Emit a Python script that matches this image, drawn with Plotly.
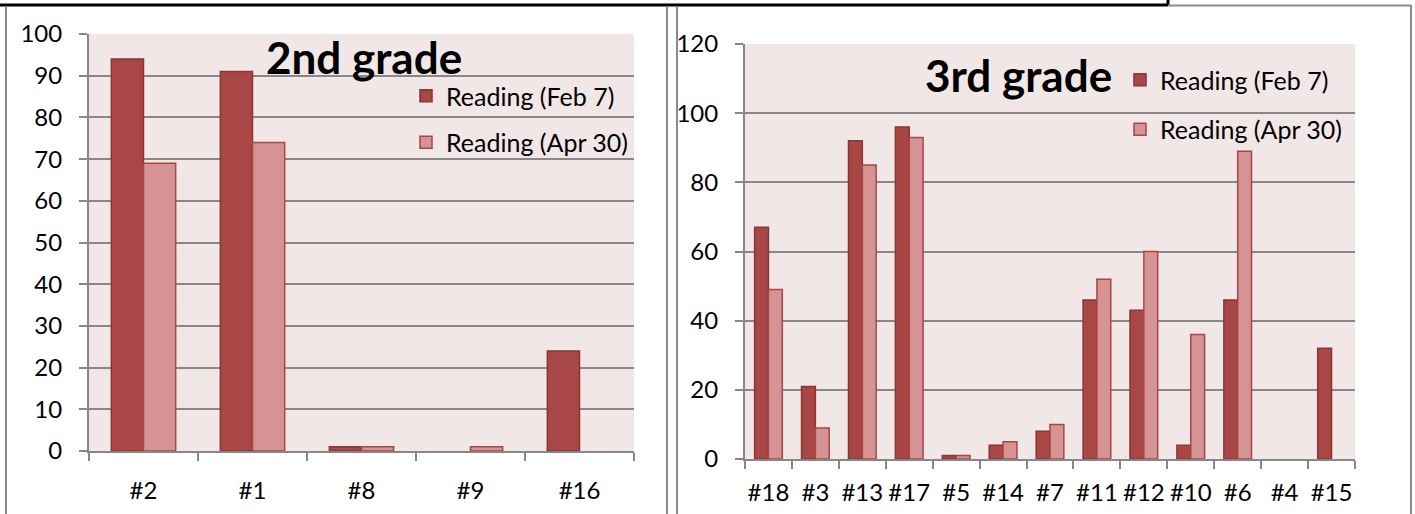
import plotly.graph_objects as go

W, H = 1415, 514

# ---- data ----
cats2 = ["#2", "#1", "#8", "#9", "#16"]
feb2 = [94, 91, 1, None, 24]
apr2 = [69, 74, 1, 1, None]

cats3 = ["#18", "#3", "#13", "#17", "#5", "#14", "#7", "#11", "#12", "#10", "#6", "#4", "#15"]
feb3 = [67, 21, 92, 96, 1, 4, 8, 46, 43, 4, 46, None, 32]
apr3 = [49, 9, 85, 93, 1, 5, 10, 52, 60, 36, 89, None, None]

yticks2 = [0, 10, 20, 30, 40, 50, 60, 70, 80, 90, 100]
yticks3 = [0, 20, 40, 60, 80, 100, 120]

name_feb = "Reading (Feb 7)"
name_apr = "Reading (Apr 30)"

# ---- styles ----
FEB_FILL, FEB_LINE = "#A94646", "#8B3535"
APR_FILL, APR_LINE = "#D59393", "#A94646"
GRID = "#878787"
BG = "#F2E7E7"
FONT = "Lato"

def px(x):
    return x / W

def py(y):
    return 1 - y / H

fig = go.Figure()

fig.add_trace(go.Bar(x=cats2, y=feb2, name=name_feb, xaxis="x", yaxis="y",
                     marker=dict(color=FEB_FILL, line=dict(color=FEB_LINE, width=1.5)),
                     legend="legend", legendgroup="a"))
fig.add_trace(go.Bar(x=cats2, y=apr2, name=name_apr, xaxis="x", yaxis="y",
                     marker=dict(color=APR_FILL, line=dict(color=APR_LINE, width=1.5)),
                     legend="legend", legendgroup="b"))
fig.add_trace(go.Bar(x=cats3, y=feb3, name=name_feb, xaxis="x2", yaxis="y2",
                     marker=dict(color=FEB_FILL, line=dict(color=FEB_LINE, width=1.5)),
                     legend="legend2", legendgroup="c"))
fig.add_trace(go.Bar(x=cats3, y=apr3, name=name_apr, xaxis="x2", yaxis="y2",
                     marker=dict(color=APR_FILL, line=dict(color=APR_LINE, width=1.5)),
                     legend="legend2", legendgroup="d"))

axis_common = dict(showline=True, linecolor=GRID, linewidth=2, ticks="outside",
                   tickcolor=GRID, tickwidth=2, ticklen=8, tickangle=0, automargin=False,
                   tickfont=dict(family=FONT, size=24, color="#000000"))

fig.update_layout(
    width=W, height=H, margin=dict(l=0, r=0, t=0, b=0, pad=0),
    paper_bgcolor="white", plot_bgcolor=BG,
    barmode="group", bargap=0.41, bargroupgap=0,
    font=dict(family=FONT, color="#000000"),
    xaxis=dict(domain=[px(89), px(634)], anchor="y", type="category",
               tickson="boundaries", showgrid=False, ticklabelstandoff=17, **axis_common),
    yaxis=dict(domain=[py(451), py(34)], anchor="x", range=[0, 100], tickvals=yticks2,
               showgrid=True, gridcolor=GRID, gridwidth=2, zeroline=False,
               ticklabelstandoff=12, **axis_common),
    xaxis2=dict(domain=[px(745), px(1355)], anchor="y2", type="category",
                tickson="boundaries", showgrid=False, ticklabelstandoff=11, **axis_common),
    yaxis2=dict(domain=[py(459), py(44)], anchor="x2", range=[0, 120], tickvals=yticks3,
                showgrid=True, gridcolor=GRID, gridwidth=2, zeroline=False,
                ticklabelstandoff=12, **axis_common),
    legend=dict(x=px(406), y=py(73), xanchor="left", yanchor="top",
                bgcolor="rgba(0,0,0,0)", font=dict(family=FONT, size=25),
                tracegroupgap=11, itemwidth=30),
    legend2=dict(x=px(1120), y=py(57), xanchor="left", yanchor="top",
                 bgcolor="rgba(0,0,0,0)", font=dict(family=FONT, size=25),
                 tracegroupgap=14, itemwidth=30),
    showlegend=True,
    annotations=[
        dict(text="<b>2nd grade</b>", x=px(364), y=py(57), xref="paper", yref="paper",
             xanchor="center", yanchor="middle",
             showarrow=False, font=dict(family=FONT, size=44, color="#000000")),
        dict(text="<b>3rd grade</b>", x=px(1018), y=py(75), xref="paper", yref="paper",
             xanchor="center", yanchor="middle",
             showarrow=False, font=dict(family=FONT, size=44, color="#000000")),
    ],
    shapes=[
        # page frame lines
        dict(type="line", xref="paper", yref="paper", x0=0, x1=px(1168), y0=py(5), y1=py(5),
             line=dict(color="#000000", width=3)),
        dict(type="line", xref="paper", yref="paper", x0=px(1168), x1=px(1168), y0=py(0), y1=py(6),
             line=dict(color="#000000", width=3)),
        dict(type="line", xref="paper", yref="paper", x0=px(1168), x1=px(1411), y0=py(5.5), y1=py(5.5),
             line=dict(color="#8A8A8A", width=2)),
        dict(type="line", xref="paper", yref="paper", x0=px(6), x1=px(6), y0=py(6), y1=0,
             line=dict(color="#8A8A8A", width=2)),
        dict(type="line", xref="paper", yref="paper", x0=px(667), x1=px(667), y0=py(6), y1=0,
             line=dict(color="#8A8A8A", width=2)),
        dict(type="line", xref="paper", yref="paper", x0=px(677), x1=px(677), y0=py(6), y1=0,
             line=dict(color="#8A8A8A", width=2)),
        dict(type="line", xref="paper", yref="paper", x0=px(1411), x1=px(1411), y0=py(5), y1=0,
             line=dict(color="#8A8A8A", width=2)),
    ],
)

fig.write_html(
    "out.html",
    post_script="document.body.style.margin='0';document.body.style.padding='0';"
                "document.body.style.overflow='hidden';",
)
